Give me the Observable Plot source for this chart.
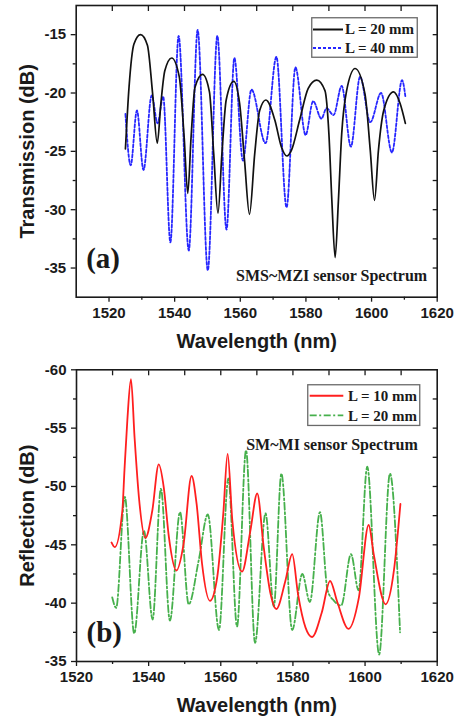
<!DOCTYPE html>
<html><head><meta charset="utf-8">
<script src="https://cdn.jsdelivr.net/npm/d3@7"></script>
<script src="https://cdn.jsdelivr.net/npm/@observablehq/plot@0.6"></script>
<style>
body{margin:0;background:#fff;}
#wrap{position:relative;width:461px;height:719px;overflow:hidden;background:#fff;}
.panel{position:absolute;left:0;}
.panel svg{display:block;}
.legend{position:absolute;}
</style></head>
<body><div id="wrap"></div>
<script>
// ---------- Panel (a): SMS~MZI transmission ----------
const wlA20 = [1525.0,1526.1,1527.6,1529.6,1531.7,1533.3,1534.7,1535.8,1537.0,1539.1,1541.4,1542.9,1544.0,1545.0,1546.2,1548.5,1550.6,1551.9,1553.2,1554.4,1555.7,1558.0,1559.8,1561.3,1562.8,1564.4,1565.9,1567.8,1570.5,1572.5,1574.2,1575.6,1578.1,1580.7,1583.3,1585.8,1587.0,1587.9,1588.9,1589.9,1590.9,1592.4,1595.0,1598.0,1599.6,1600.9,1602.1,1603.7,1606.7,1608.7,1610.3];
const tA20  = [-24.8,-19.5,-15.8,-15.0,-15.9,-20.1,-24.3,-20.9,-18.1,-17.0,-18.6,-23.8,-28.6,-23.8,-19.5,-18.4,-19.9,-25.2,-30.3,-25.2,-20.6,-19.0,-20.9,-25.8,-30.4,-25.2,-21.5,-20.6,-22.3,-24.6,-25.4,-24.9,-22.3,-19.6,-18.9,-19.8,-23.5,-29.2,-34.1,-29.2,-23.5,-19.8,-17.9,-20.1,-24.9,-29.2,-24.9,-21.5,-19.9,-20.9,-22.6];
const wlA40 = [1525.0,1526.6,1528.5,1530.5,1533.0,1534.8,1536.5,1538.7,1541.2,1544.3,1547.0,1550.1,1553.0,1555.8,1558.2,1560.8,1563.4,1567.7,1571.0,1574.1,1576.8,1579.9,1582.2,1584.7,1586.3,1588.4,1590.9,1593.7,1596.5,1599.6,1602.9,1606.2,1609.3,1610.3];
const tA40  = [-21.8,-26.2,-21.5,-26.6,-20.2,-22.6,-20.3,-32.8,-15.1,-33.5,-14.6,-35.2,-15.1,-31.7,-17.0,-25.8,-19.7,-24.3,-16.9,-29.8,-17.8,-23.6,-20.7,-22.2,-21.3,-21.9,-19.4,-24.6,-18.6,-22.5,-20.0,-25.1,-18.9,-20.3];
const xMajorA = [1520,1540,1560,1580,1600,1620];
const xMinorA = [1530,1550,1570,1590,1610];
const xTopA   = [1521,1532,1543,1554,1565,1576,1587,1598,1609];
const yMajorA = [-35,-30,-25,-20,-15];
const yMinorA = [-32.5,-27.5,-22.5,-17.5];
const yRightA = [-35,-32.5,-30,-27.5,-25,-22.5,-20,-17.5,-15];
const seriesA = ["L = 20 mm","L = 40 mm"];

// ---------- Panel (b): SM~MI reflection ----------
const wlB10 = [1529.7,1530.6,1532.7,1533.3,1534.1,1535.1,1536.1,1537.3,1539.1,1541.0,1542.8,1544.2,1545.6,1547.7,1549.7,1551.9,1553.3,1554.8,1557.0,1559.0,1560.7,1561.9,1563.2,1565.9,1568.2,1570.1,1571.9,1573.8,1575.4,1577.9,1579.8,1581.4,1583.5,1585.3,1588.0,1590.3,1592.3,1595.4,1598.3,1601.0,1602.4,1605.7,1608.0,1609.8];
const rB10  = [-45.2,-44.8,-47.9,-51.4,-55.7,-59.2,-54.2,-49.1,-45.6,-47.9,-51.9,-49.9,-45.7,-42.8,-45.1,-50.9,-48.5,-43.4,-40.2,-42.2,-47.7,-52.8,-47.1,-42.7,-46.2,-49.4,-44.8,-40.8,-39.5,-41.9,-44.2,-40.8,-37.9,-37.1,-39.2,-41.9,-40.1,-37.8,-40.5,-46.7,-44.2,-39.9,-42.8,-48.5];
const wlB20 = [1529.9,1531.0,1533.4,1536.0,1538.7,1541.1,1543.4,1545.9,1548.7,1551.1,1553.9,1556.4,1559.5,1562.1,1564.5,1567.0,1569.5,1572.4,1574.7,1576.8,1579.8,1582.6,1584.7,1587.5,1589.6,1591.4,1593.4,1596.1,1598.2,1600.6,1603.9,1606.9,1609.7];
const rB20  = [-40.5,-39.6,-49.1,-37.4,-46.2,-38.6,-49.8,-38.5,-47.8,-39.9,-43.7,-47.6,-37.7,-50.7,-38.0,-53.1,-36.6,-47.7,-39.7,-51.1,-37.7,-42.5,-40.1,-47.8,-41.1,-40.2,-39.8,-44.2,-41.1,-51.7,-35.6,-51.1,-37.5];
const xMajorB = [1520,1540,1560,1580,1600,1620];
const xMinorB = [1530,1550,1570,1590,1610];
const xTopB   = [1530,1540,1550,1560,1570,1580,1590,1600,1610];
const yMajorB = [-60,-55,-50,-45,-40,-35];
const yMinorB = [-57.5,-52.5,-47.5,-42.5,-37.5];
const yRightB = [-57.5,-55,-52.5,-50,-47.5,-45,-42.5,-40,-37.5];
const seriesB = ["L = 10 mm","L = 20 mm"];

// ---------- styles ----------
const SANS = "'Liberation Sans', Arial, Helvetica, sans-serif";
const SERIF = "'Liberation Serif', 'Times New Roman', serif";
const INK = "#1a1a1a";
const C_BLACK = "#111111", C_BLUE = "#2626ff", C_RED = "#ff1f1f", C_GREEN = "#46b04c";
const DASH_BLUE = "3,2", DASH_GREEN = "7,2.5,2,2.5";
const fmt = d => String(d);

function axes(cfg) {
  const tf = {fontFamily: SANS, fontWeight: "bold", fontSize: 15, fill: INK};
  return [
    Plot.axisX({ticks: cfg.xMajor, tickSize: 5, tickPadding: 5, tickFormat: fmt, label: null, stroke: INK, strokeWidth: 1.3, ...tf}),
    Plot.axisX({ticks: cfg.xMinor, tickSize: 3, fill: "none", label: null, stroke: INK, strokeWidth: 1.3}),
    Plot.axisX({anchor: "top", ticks: cfg.xTop, tickSize: 5, dy: 5, fill: "none", label: null, stroke: INK, strokeWidth: 1.3}),
    Plot.axisY({ticks: cfg.yMajor, tickSize: 5, tickPadding: 5, tickFormat: fmt, label: null, stroke: INK, strokeWidth: 1.3, ...tf}),
    Plot.axisY({ticks: cfg.yMinor, tickSize: 3, fill: "none", label: null, stroke: INK, strokeWidth: 1.3}),
    Plot.axisY({anchor: "right", ticks: cfg.yRight, tickSize: 5, dx: -5, fill: "none", label: null, stroke: INK, strokeWidth: 1.3}),
    Plot.text([cfg.xLabel], {text: d => d, frameAnchor: "bottom", textAnchor: "middle", dy: 44, lineAnchor: "middle", fontFamily: SANS, fontWeight: "bold", fontSize: 20, fill: INK}),
    Plot.text([cfg.yLabel], {text: d => d, frameAnchor: "left", textAnchor: "middle", rotate: -90, dx: -49, lineAnchor: "middle", fontFamily: SANS, fontWeight: "bold", fontSize: 20, fill: INK}),
  ];
}

const chartA = Plot.plot({
  width: 461, height: 360,
  marginTop: 5, marginRight: 24.3, marginBottom: 63.3, marginLeft: 75.7,
  style: {background: "white", fontFamily: SANS},
  x: {domain: [1510, 1620]},
  y: {domain: [-37.5, -12.5]},
  marks: [
    ...axes({xMajor: xMajorA, xMinor: xMinorA, xTop: xTopA, yMajor: yMajorA, yMinor: yMinorA, yRight: yRightA,
             xLabel: "Wavelength (nm)", yLabel: "Transmission (dB)"}),
    Plot.line(wlA40, {x: wlA40, y: tA40, curve: "monotone-x", stroke: C_BLUE, strokeWidth: 1.8, strokeDasharray: DASH_BLUE}),
    Plot.line(wlA20, {x: wlA20, y: tA20, curve: "monotone-x", stroke: C_BLACK, strokeWidth: 1.7}),
    Plot.text(["(a)"], {text: d => d, frameAnchor: "bottom-left", textAnchor: "start", lineAnchor: "bottom", dx: 10, dy: -29, fontFamily: SERIF, fontWeight: "bold", fontSize: 29, fill: INK}),
    Plot.text(["SMS~MZI sensor Spectrum"], {text: d => d, frameAnchor: "bottom-right", textAnchor: "end", lineAnchor: "bottom", dx: -10, dy: -16, fontFamily: SERIF, fontWeight: "bold", fontSize: 16, fill: INK}),
    Plot.frame({stroke: INK, strokeWidth: 1.6})
  ]
});

const chartB = Plot.plot({
  width: 461, height: 359,
  marginTop: 9.3, marginRight: 24.3, marginBottom: 58, marginLeft: 76,
  style: {background: "white", fontFamily: SANS},
  x: {domain: [1520, 1620]},
  y: {domain: [-35, -60]},
  marks: [
    ...axes({xMajor: xMajorB, xMinor: xMinorB, xTop: xTopB, yMajor: yMajorB, yMinor: yMinorB, yRight: yRightB,
             xLabel: "Wavelength (nm)", yLabel: "Reflection (dB)"}),
    Plot.line(wlB20, {x: wlB20, y: rB20, curve: "monotone-x", stroke: C_GREEN, strokeWidth: 1.8, strokeDasharray: DASH_GREEN}),
    Plot.line(wlB10, {x: wlB10, y: rB10, curve: "monotone-x", stroke: C_RED, strokeWidth: 1.8}),
    Plot.text(["(b)"], {text: d => d, frameAnchor: "bottom-left", textAnchor: "start", lineAnchor: "bottom", dx: 10, dy: -20, fontFamily: SERIF, fontWeight: "bold", fontSize: 29, fill: INK}),
    Plot.text(["SM~MI sensor Spectrum"], {text: d => d, frameAnchor: "top-right", textAnchor: "end", lineAnchor: "bottom", dx: -19.4, dy: 80, fontFamily: SERIF, fontWeight: "bold", fontSize: 16, fill: INK}),
    Plot.frame({stroke: INK, strokeWidth: 1.6})
  ]
});

const wrap = document.getElementById("wrap");
const pa = document.createElement("div"); pa.className = "panel"; pa.style.top = "0px"; pa.appendChild(chartA); wrap.appendChild(pa);
const pb = document.createElement("div"); pb.className = "panel"; pb.style.top = "360px"; pb.appendChild(chartB); wrap.appendChild(pb);

// ---------- legends ----------
function legend(o) {
  const svg = d3.create("svg").attr("class", "legend").attr("width", o.w + 2).attr("height", o.h + 2)
    .style("left", o.left + "px").style("top", o.top + "px");
  svg.append("rect").attr("x", 0.75).attr("y", 0.75).attr("width", o.w).attr("height", o.h)
    .attr("fill", "white").attr("stroke", "#6a6a6a").attr("stroke-width", 1.3);
  o.items.forEach((it, i) => {
    const y = o.rowY[i];
    svg.append("line").attr("x1", o.lx1).attr("x2", o.lx2).attr("y1", y).attr("y2", y)
      .attr("stroke", it.color).attr("stroke-width", it.width).attr("stroke-dasharray", it.dash || null);
    svg.append("text").attr("x", o.tx).attr("y", o.baseY[i]).text(it.label)
      .attr("font-family", SERIF).attr("font-weight", "bold").attr("font-size", 15).attr("fill", INK);
  });
  wrap.appendChild(svg.node());
}
legend({left: 311, top: 16.5, w: 105.5, h: 39.5, lx1: 2, lx2: 32, tx: 34, rowY: [12.5, 31], baseY: [17, 36],
  items: [{label: seriesA[0], color: C_BLACK, width: 2},
          {label: seriesA[1], color: C_BLUE, width: 2, dash: DASH_BLUE}]});
legend({left: 307, top: 384.3, w: 112, h: 40.7, lx1: 2.7, lx2: 36.3, tx: 41, rowY: [11.7, 31.4], baseY: [17.4, 36.7],
  items: [{label: seriesB[0], color: C_RED, width: 2},
          {label: seriesB[1], color: C_GREEN, width: 1.8, dash: DASH_GREEN}]});
</script>
</body></html>
